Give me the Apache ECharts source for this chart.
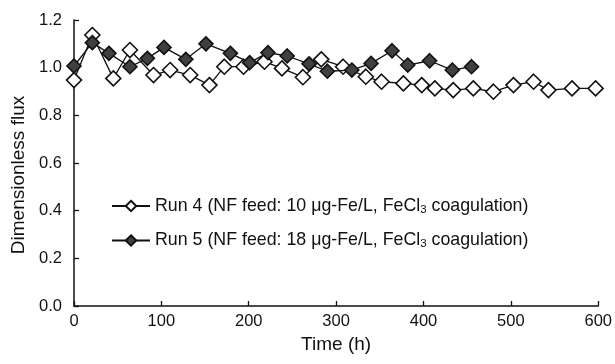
<!DOCTYPE html>
<html>
<head>
<meta charset="utf-8">
<script src="https://cdn.jsdelivr.net/npm/echarts@6/dist/echarts.min.js"></script>
<style>
html,body{margin:0;padding:0;background:#fff;}
#chart{width:615px;height:364px;}
</style>
</head>
<body>
<div id="chart"></div>
<script>
// Run 4 (open diamonds): time (h) and dimensionless flux
const run4Time = [0, 21, 45, 64, 91, 110, 133, 155, 172, 194, 218, 238, 262, 283, 308, 334, 352, 377, 398, 413, 434, 457, 480, 503, 526, 543, 570, 597];
const run4Flux = [0.948, 1.137, 0.955, 1.074, 0.969, 0.990, 0.969, 0.927, 1.004, 1.004, 1.025, 0.997, 0.960, 1.035, 1.004, 0.962, 0.941, 0.934, 0.927, 0.913, 0.906, 0.913, 0.899, 0.927, 0.941, 0.906, 0.913, 0.913];
// Run 5 (filled diamonds)
const run5Time = [0, 21, 40, 64, 84, 103, 128, 151, 179, 201, 222, 244, 269, 290, 318, 340, 364, 382, 407, 433, 455];
const run5Flux = [1.007, 1.105, 1.060, 1.004, 1.039, 1.085, 1.035, 1.100, 1.060, 1.021, 1.063, 1.049, 1.016, 0.985, 0.990, 1.018, 1.071, 1.011, 1.029, 0.990, 1.004];
const seriesNames = ['Run 4', 'Run 5'];
const legendTexts = {
  'Run 4': 'Run 4 (NF feed: 10 \u03bcg-Fe/L, FeCl{sub|3} coagulation)',
  'Run 5': 'Run 5 (NF feed: 18 \u03bcg-Fe/L, FeCl{sub|3} coagulation)'
};
const xTicks = {min: 0, max: 600, interval: 100};
const yTicks = {min: 0, max: 1.2, interval: 0.2};
const xTitle = 'Time (h)';
const yTitle = 'Dimensionless flux';

const FONT = '"Liberation Sans", Arial, Helvetica, sans-serif';
const chart = echarts.init(document.getElementById('chart'), null, {renderer: 'canvas'});
const pairs = (t, v) => t.map((x, i) => [x, v[i]]);

chart.setOption({
  animation: false,
  backgroundColor: '#ffffff',
  grid: {left: 74, right: 16, top: 20, bottom: 58, containLabel: false},
  legend: {
    orient: 'vertical',
    left: 106,
    top: 192,
    itemGap: 16,
    itemWidth: 38,
    itemHeight: 13,
    data: seriesNames,
    formatter: n => legendTexts[n],
    textStyle: {
      fontFamily: FONT, fontSize: 17.8, color: '#111',
      rich: {sub: {fontFamily: FONT, fontSize: 11.5, color: '#111', verticalAlign: 'bottom', padding: [7, 0, 0, 0]}}
    }
  },
  xAxis: {
    type: 'value', min: xTicks.min, max: xTicks.max, interval: xTicks.interval,
    name: xTitle, nameLocation: 'middle', nameGap: 29,
    nameTextStyle: {fontFamily: FONT, fontSize: 19, color: '#111'},
    axisLine: {show: true, lineStyle: {color: '#111', width: 1.5}},
    axisTick: {show: true, inside: true, length: 5, lineStyle: {color: '#111', width: 1.3}},
    axisLabel: {fontFamily: FONT, fontSize: 16.5, color: '#111', margin: 7},
    splitLine: {show: false}
  },
  yAxis: {
    type: 'value', min: yTicks.min, max: yTicks.max, interval: yTicks.interval,
    name: yTitle, nameLocation: 'middle', nameGap: 42, nameRotate: 90,
    nameTextStyle: {fontFamily: FONT, fontSize: 19, color: '#111', padding: [0, 24, 0, 0]},
    axisLine: {show: true, lineStyle: {color: '#111', width: 1.5}},
    axisTick: {show: true, inside: true, length: 5, lineStyle: {color: '#111', width: 1.3}},
    axisLabel: {fontFamily: FONT, fontSize: 16.5, color: '#111', margin: 12, formatter: v => v.toFixed(1)},
    splitLine: {show: false}
  },
  series: [
    {
      name: seriesNames[0], type: 'line', data: pairs(run4Time, run4Flux),
      symbol: 'diamond', symbolSize: 15, showAllSymbol: true,
      lineStyle: {color: '#111', width: 1.3},
      itemStyle: {color: '#ffffff', borderColor: '#111', borderWidth: 1.6},
      z: 2
    },
    {
      name: seriesNames[1], type: 'line', data: pairs(run5Time, run5Flux),
      symbol: 'diamond', symbolSize: 14, showAllSymbol: true,
      lineStyle: {color: '#111', width: 1.3},
      itemStyle: {color: '#404040', borderColor: '#111', borderWidth: 1.6},
      z: 3
    }
  ]
});
</script>
</body>
</html>
